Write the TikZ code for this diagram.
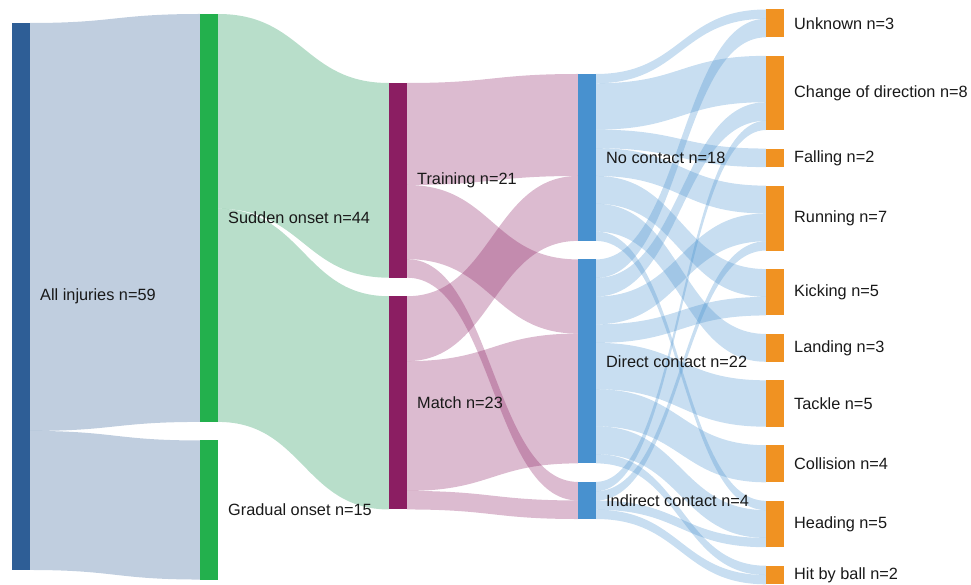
\documentclass[tikz,border=0pt]{standalone}
\usepackage{fontspec}
\setmainfont{Liberation Sans}
\usetikzlibrary{positioning,backgrounds}
\definecolor{injc}{RGB}{46,94,150}
\definecolor{onsetc}{RGB}{35,176,77}
\definecolor{onsetl}{RGB}{20,145,80}
\definecolor{settingc}{RGB}{139,30,98}
\definecolor{contactc}{RGB}{72,145,207}
\definecolor{mechc}{RGB}{240,146,34}
\def\un{9.271pt}
\tikzset{  bar/.style={rectangle,inner sep=0pt,outer sep=0pt,minimum width=18pt,minimum height={#1*\un}},
  lbl/.style={font=\fontsize{16.3}{19}\selectfont,inner sep=0pt,text=black!90} }
% band from #1 (offset #2) to #3 (offset #4), width #5, colour #6
\newcommand{\flow}[6]{%
  \fill[#6,fill opacity=.3] ([yshift={-(#2)*\un}]#1.north east) .. controls +(85,0) and +(-85,0) .. ([yshift={-(#4)*\un}]#3.north west)
    -- ([yshift={-(#4+#5)*\un}]#3.north west) .. controls +(-85,0) and +(85,0) .. ([yshift={-(#2+#5)*\un}]#1.north east) -- cycle;}

\begin{document}
\begin{tikzpicture}[x=1pt,y=-1pt,node distance=18.54pt]
   \useasboundingbox (0,0) rectangle (971,585);
   \node[bar=59,fill=injc,anchor=north west] (all) at (12,23) {};
   \node[bar=44,fill=onsetc,anchor=north west] (sudden) at (200,14) {};
   \node[bar=15,fill=onsetc,below=of sudden] (gradual) {};
   \node[bar=21,fill=settingc,anchor=north west] (training) at (389,83) {};
   \node[bar=23,fill=settingc,below=of training] (match) {};
   \node[bar=18,fill=contactc,anchor=north west] (nocontact) at (578,74) {};
   \node[bar=22,fill=contactc,below=of nocontact] (direct) {};
   \node[bar=4,fill=contactc,below=of direct] (indirect) {};
   \node[bar=3,fill=mechc,anchor=north west] (unknown) at (766,9.5) {};
   \node[bar=8,fill=mechc,below=of unknown] (change) {};
   \node[bar=2,fill=mechc,below=of change] (falling) {};
   \node[bar=7,fill=mechc,below=of falling] (running) {};
   \node[bar=5,fill=mechc,below=of running] (kicking) {};
   \node[bar=3,fill=mechc,below=of kicking] (landing) {};
   \node[bar=5,fill=mechc,below=of landing] (tackle) {};
   \node[bar=4,fill=mechc,below=of tackle] (collision) {};
   \node[bar=5,fill=mechc,below=of collision] (heading) {};
   \node[bar=2,fill=mechc,below=of heading] (hitball) {};

   \node[lbl,right=10pt of all] {All injuries n=59};
   \node[lbl,right=10pt of sudden] {Sudden onset n=44};
   \node[lbl,right=10pt of gradual] {Gradual onset n=15};
   \node[lbl,right=10pt of training] {Training n=21};
   \node[lbl,right=10pt of match] {Match n=23};
   \node[lbl,right=10pt of nocontact] {No contact n=18};
   \node[lbl,right=10pt of direct] {Direct contact n=22};
   \node[lbl,right=10pt of indirect] {Indirect contact n=4};
   \node[lbl,right=10pt of unknown] {Unknown n=3};
   \node[lbl,right=10pt of change] {Change of direction n=8};
   \node[lbl,right=10pt of falling] {Falling n=2};
   \node[lbl,right=10pt of running] {Running n=7};
   \node[lbl,right=10pt of kicking] {Kicking n=5};
   \node[lbl,right=10pt of landing] {Landing n=3};
   \node[lbl,right=10pt of tackle] {Tackle n=5};
   \node[lbl,right=10pt of collision] {Collision n=4};
   \node[lbl,right=10pt of heading] {Heading n=5};
   \node[lbl,right=10pt of hitball] {Hit by ball n=2};

   \begin{pgfonlayer}{background}
   \flow{all}{0}{sudden}{0}{44}{injc}
   \flow{all}{44}{gradual}{0}{15}{injc}
   \flow{sudden}{0}{training}{0}{21}{onsetl}
   \flow{sudden}{21}{match}{0}{23}{onsetl}
   \flow{training}{0}{nocontact}{0}{11}{settingc}
   \flow{training}{11}{direct}{0}{8}{settingc}
   \flow{training}{19}{indirect}{0}{2}{settingc}
   \flow{match}{0}{nocontact}{11}{7}{settingc}
   \flow{match}{7}{direct}{8}{14}{settingc}
   \flow{match}{21}{indirect}{2}{2}{settingc}
   \flow{nocontact}{0}{unknown}{0}{1}{contactc}
   \flow{nocontact}{1}{change}{0}{5}{contactc}
   \flow{nocontact}{6}{falling}{0}{2}{contactc}
   \flow{nocontact}{8}{running}{0}{3}{contactc}
   \flow{nocontact}{11}{kicking}{0}{3}{contactc}
   \flow{nocontact}{14}{landing}{0}{3}{contactc}
   \flow{nocontact}{17}{heading}{0}{1}{contactc}
   \flow{direct}{0}{unknown}{1}{2}{contactc}
   \flow{direct}{2}{change}{5}{2}{contactc}
   \flow{direct}{4}{running}{3}{3}{contactc}
   \flow{direct}{7}{kicking}{3}{2}{contactc}
   \flow{direct}{9}{tackle}{0}{5}{contactc}
   \flow{direct}{14}{collision}{0}{4}{contactc}
   \flow{direct}{18}{heading}{1}{3}{contactc}
   \flow{direct}{21}{hitball}{0}{1}{contactc}
   \flow{indirect}{0}{change}{7}{1}{contactc}
   \flow{indirect}{1}{running}{6}{1}{contactc}
   \flow{indirect}{2}{heading}{4}{1}{contactc}
   \flow{indirect}{3}{hitball}{1}{1}{contactc}
   \end{pgfonlayer}
  \end{tikzpicture}
\end{document}
